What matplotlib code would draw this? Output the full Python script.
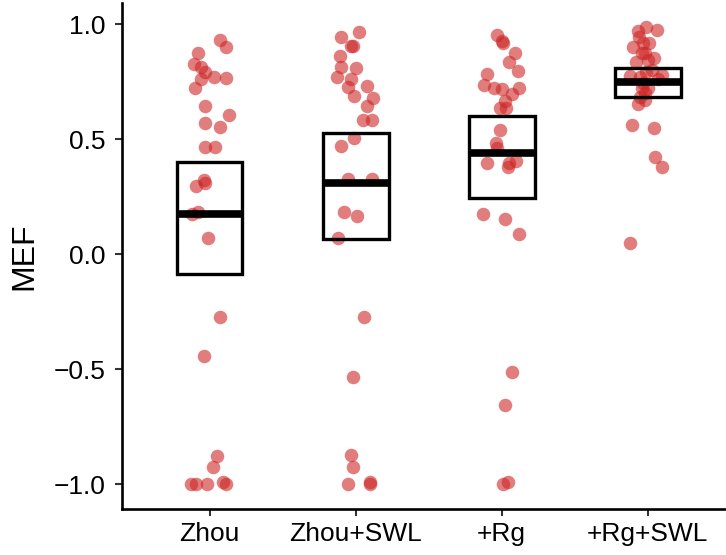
import numpy as np
import matplotlib
matplotlib.use("Agg")
import matplotlib.pyplot as plt

# ── data ────────────────────────────────────────────────────────
models = ["Zhou", "Zhou+SWL", "+Rg", "+Rg+SWL"]

# crossbar: centre line, lower and upper edge
box_mid = [0.172, 0.307, 0.440, 0.749]
box_low = [-0.089, 0.064, 0.242, 0.682]
box_high = [0.399, 0.525, 0.600, 0.810]

# per-site MEF values and horizontal jitter (category units)
zhou_mef = [0.930, 0.901, 0.875, 0.825, 0.814, 0.793, 0.768, 0.764, 0.759, 0.720,
            0.645, 0.604, 0.570, 0.553, 0.465, 0.466, 0.322, 0.310, 0.296, 0.181,
            0.172, 0.068, -0.272, -0.443, -0.877, -0.927, -1.0, -1.0, -1.0, -0.99, -1.0]
zhou_jit = [0.07, 0.11, -0.08, -0.11, -0.06, -0.03, 0.03, 0.11, -0.06, -0.10,
            -0.03, 0.13, -0.03, 0.07, -0.03, 0.04, -0.04, -0.03, -0.09, -0.08,
            -0.12, -0.01, 0.07, -0.04, 0.05, 0.02, -0.13, -0.09, -0.02, 0.09, 0.11]

swl_mef = [0.964, 0.943, 0.906, 0.904, 0.862, 0.807, 0.814, 0.768, 0.761, 0.725,
           0.732, 0.688, 0.678, 0.643, 0.583, 0.583, 0.506, 0.471, 0.326, 0.326,
           0.181, 0.165, 0.071, -0.272, -0.533, -0.875, -0.927, -1.0, -0.99, -1.0]
swl_jit = [0.02, -0.10, -0.03, -0.02, -0.11, 0.00, -0.10, -0.13, -0.03, -0.05,
           0.08, -0.01, 0.12, 0.08, 0.05, 0.11, -0.01, -0.10, -0.05, 0.11,
           -0.08, 0.01, -0.12, 0.06, -0.02, -0.03, -0.02, -0.05, 0.10, 0.10]

rg_mef = [0.952, 0.928, 0.916, 0.872, 0.835, 0.796, 0.783, 0.735, 0.720, 0.716,
          0.723, 0.694, 0.665, 0.633, 0.633, 0.539, 0.481, 0.459, 0.394, 0.380,
          0.406, 0.397, 0.174, 0.152, 0.087, -0.513, -0.658, -0.99, -1.0]
rg_jit = [-0.03, 0.00, 0.01, 0.09, 0.05, 0.11, -0.10, -0.12, -0.05, 0.00,
          0.12, 0.07, 0.02, -0.01, 0.03, -0.01, -0.04, -0.03, -0.10, 0.04,
          0.10, 0.05, -0.13, 0.02, 0.12, 0.07, 0.02, 0.04, 0.01]

rgswl_mef = [0.988, 0.974, 0.970, 0.945, 0.916, 0.901, 0.919, 0.872, 0.872, 0.851,
             0.836, 0.843, 0.793, 0.774, 0.778, 0.771, 0.742, 0.720, 0.720, 0.684,
             0.670, 0.652, 0.561, 0.547, 0.423, 0.380, 0.049, 0.800, 0.760, 0.700]
rgswl_jit = [-0.01, 0.06, -0.07, -0.06, 0.01, -0.10, -0.03, -0.02, -0.04, 0.04,
             -0.08, 0.00, -0.01, -0.12, 0.10, -0.05, -0.03, -0.04, 0.00, -0.05,
             -0.02, -0.07, -0.11, 0.04, 0.05, 0.10, -0.12, 0.03, 0.07, -0.02]

groups = [(zhou_mef, zhou_jit), (swl_mef, swl_jit), (rg_mef, rg_jit), (rgswl_mef, rgswl_jit)]

# ── figure ──────────────────────────────────────────────────────
plt.rcParams["font.family"] = ["Liberation Sans", "DejaVu Sans"]

fig = plt.figure(figsize=(7.26, 5.55), dpi=100)
ax = fig.add_axes([0.168, 0.0823, 0.845, 0.9117])

pos = np.arange(1, len(models) + 1)

for i, (vals, jit) in enumerate(groups):
    xs = pos[i] + np.array(jit)
    ax.scatter(xs, vals, s=95, color="#CD2626", alpha=0.6, linewidths=0, zorder=2)

lows = np.array(box_low)
highs = np.array(box_high)
ax.bar(pos, highs - lows, bottom=lows, width=0.45, fill=False,
       edgecolor="black", linewidth=2.4, zorder=3)
ax.hlines(box_mid, pos - 0.225, pos + 0.225, color="black", linewidth=5.5, zorder=4)

ax.set_xlim(0.4, 4.6)
ax.set_ylim(-1.11, 1.09)
ax.set_xticks(pos)
ax.set_xticklabels(models)
ax.set_yticks([-1.0, -0.5, 0.0, 0.5, 1.0])
ax.set_yticklabels(["\u22121.0", "\u22120.5", "0.0", "0.5", "1.0"])
ax.set_ylabel("MEF", fontsize=23, labelpad=10)

ax.spines[["top", "right"]].set_visible(False)
for s in ["left", "bottom"]:
    ax.spines[s].set_linewidth(1.9)
ax.tick_params(axis="both", labelsize=19, length=5, width=1.5, color="#333333",
               labelcolor="black")
ax.tick_params(axis="y", pad=7)
ax.tick_params(axis="x", pad=4)

fig.savefig("out.png", dpi=100)
